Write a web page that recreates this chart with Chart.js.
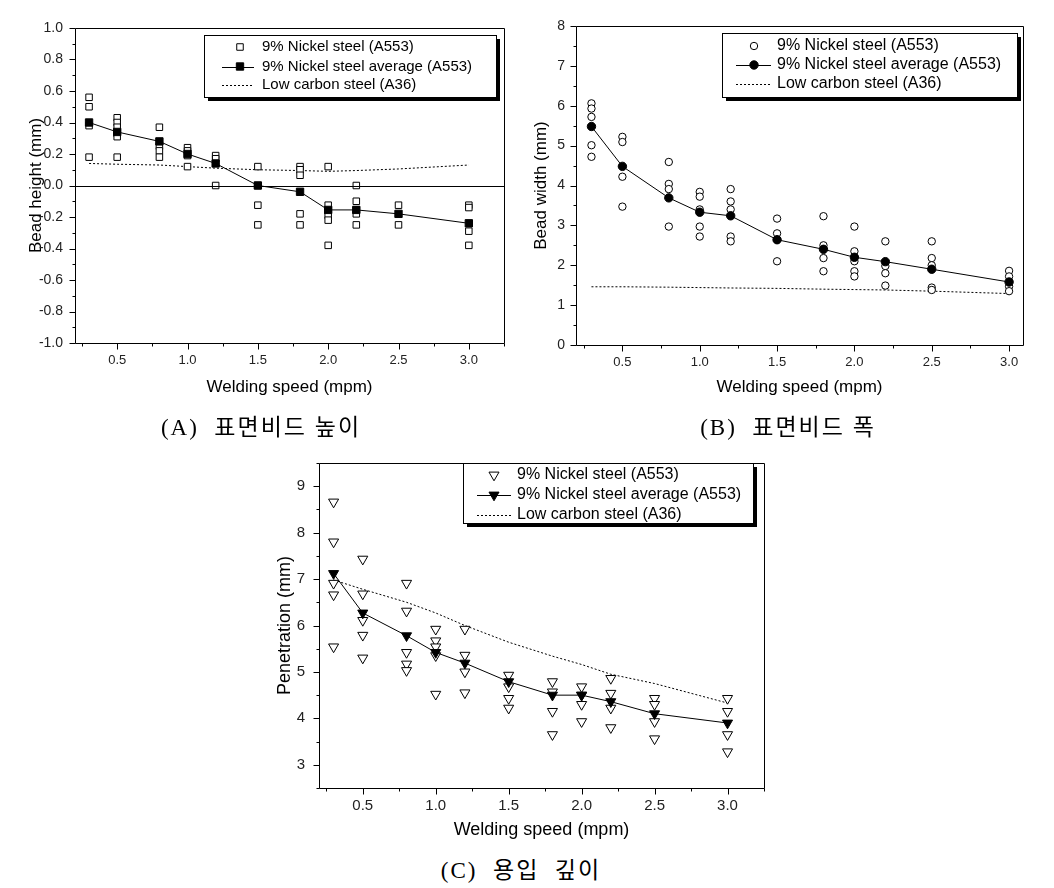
<!DOCTYPE html>
<html><head><meta charset="utf-8">
<script src="https://cdn.jsdelivr.net/npm/chart.js@4.4.1/dist/chart.umd.min.js"></script>
<style>
body{margin:0;background:#fff;width:1054px;height:888px;position:relative;overflow:hidden}
.c{position:absolute}
.cap{position:absolute;font-family:"Liberation Serif","Noto Sans CJK KR",serif;font-size:23px;color:#000;white-space:nowrap;transform:translate(-50%,-50%);letter-spacing:2px}
</style></head><body>
<div class="c" style="left:0;top:0"><canvas id="cA" width="527" height="400"></canvas></div>
<div class="c" style="left:527px;top:0"><canvas id="cB" width="527" height="400"></canvas></div>
<div class="c" style="left:250px;top:440px"><canvas id="cC" width="540" height="410"></canvas></div>
<div class="cap" style="left:261px;top:425px">(A)&nbsp;&nbsp;표면비드 높이</div>
<div class="cap" style="left:788px;top:425px">(B)&nbsp;&nbsp;표면비드 폭</div>
<div class="cap" style="left:521px;top:868px">(C)&nbsp;&nbsp;용입&nbsp;&nbsp;깊이</div>
<script>
// ---------- DATA ----------
const SPEEDS = [0.3, 0.5, 0.8, 1.0, 1.2, 1.5, 1.8, 2.0, 2.2, 2.5, 3.0];
const LEGEND = ['9% Nickel steel (A553)', '9% Nickel steel average (A553)', 'Low carbon steel (A36)'];

const HEIGHT_RAW = [
  [0.56, 0.50, 0.38, 0.18],
  [0.43, 0.40, 0.37, 0.33, 0.31, 0.18],
  [0.37, 0.25, 0.22, 0.18],
  [0.24, 0.22, 0.19, 0.12],
  [0.19, 0.17, 0.0],
  [0.12, 0.0, -0.125, -0.25],
  [0.12, 0.10, 0.065, -0.18, -0.25],
  [0.12, -0.125, -0.16, -0.19, -0.22, -0.38],
  [0.0, -0.10, -0.155, -0.18, -0.25],
  [-0.125, -0.25],
  [-0.125, -0.14, -0.29, -0.38]
];
const HEIGHT_AVG = [0.40, 0.34, 0.28, 0.20, 0.14, 0.0, -0.04, -0.155, -0.155, -0.18, -0.24];
const HEIGHT_A36 = [0.14, 0.135, 0.13, 0.12, 0.11, 0.10, 0.095, 0.09, 0.095, 0.105, 0.13];

const WIDTH_RAW = [
  [6.06, 5.93, 5.72, 5.01, 4.72],
  [5.22, 5.09, 4.22, 3.47],
  [4.59, 4.04, 3.91, 2.97],
  [3.84, 3.72, 3.40, 2.97, 2.72],
  [3.91, 3.60, 3.40, 2.72, 2.60],
  [3.17, 2.80, 2.64, 2.10],
  [3.23, 2.50, 2.18, 1.85],
  [2.97, 2.35, 2.10, 1.85, 1.72],
  [2.60, 1.98, 1.80, 1.49],
  [2.60, 2.18, 2.00, 1.44, 1.38],
  [1.86, 1.72, 1.47, 1.35]
];
const WIDTH_AVG = [5.48, 4.48, 3.69, 3.33, 3.24, 2.64, 2.40, 2.20, 2.09, 1.90, 1.58];
const WIDTH_A36 = [1.46, 1.46, 1.45, 1.44, 1.43, 1.42, 1.40, 1.39, 1.38, 1.35, 1.29];

const PEN_RAW = [
  [8.66, 7.80, 6.91, 6.66, 5.54],
  [7.43, 6.68, 6.11, 5.79, 5.30],
  [6.91, 6.31, 5.42, 5.17, 5.03],
  [5.92, 5.67, 5.54, 5.35, 4.52],
  [5.92, 5.36, 5.00, 4.55],
  [4.93, 4.68, 4.43, 4.22],
  [4.79, 4.57, 4.15, 3.65],
  [4.68, 4.50, 4.30, 3.93],
  [4.86, 4.54, 4.22, 3.80],
  [4.43, 4.30, 3.93, 3.56],
  [4.43, 4.15, 3.65, 3.28]
];
const PEN_AVG = [7.12, 6.27, 5.78, 5.42, 5.19, 4.79, 4.50, 4.50, 4.36, 4.10, 3.90];
const PEN_A36 = [6.98, 6.78, 6.50, 6.27, 6.00, 5.64, 5.34, 5.16, 4.95, 4.75, 4.33];

const X_TICKS = [0.5, 1.0, 1.5, 2.0, 2.5, 3.0];
const X_MINOR = [0.25, 0.75, 1.25, 1.75, 2.25, 2.75, 3.25];
const HEIGHT_TICKS = [-1.0, -0.8, -0.6, -0.4, -0.2, 0.0, 0.2, 0.4, 0.6, 0.8, 1.0];
const HEIGHT_MINOR = [-0.9, -0.7, -0.5, -0.3, -0.1, 0.1, 0.3, 0.5, 0.7, 0.9];
const WIDTH_TICKS = [0, 1, 2, 3, 4, 5, 6, 7, 8];
const WIDTH_MINOR = [0.5, 1.5, 2.5, 3.5, 4.5, 5.5, 6.5, 7.5];
const PEN_TICKS = [3, 4, 5, 6, 7, 8, 9];
const PEN_MINOR = [2.5, 3.5, 4.5, 5.5, 6.5, 7.5, 8.5, 9.5];

// ---------- HELPERS ----------
const FONT = '"Liberation Sans", Arial, sans-serif';
function pts(raw) { const out = []; raw.forEach((arr, i) => arr.forEach(v => out.push({x: SPEEDS[i], y: v}))); return out; }
function series(vals) { return vals.map((v, i) => ({x: SPEEDS[i], y: v})); }

const decoPlugin = {
  id: 'deco',
  afterDraw(chart, args, o) {
    const {ctx, chartArea: a, scales: {x, y}} = chart;
    ctx.save();
    ctx.strokeStyle = '#000'; ctx.lineWidth = 1;
    const L = Math.round(a.left) + 0.5, R = Math.round(a.right) + 0.5, T = Math.round(a.top) + 0.5, B = Math.round(a.bottom) + 0.5;
    ctx.beginPath();
    ctx.rect(L, T, R - L, B - T);
    const xt = (v, len) => { const p = Math.round(x.getPixelForValue(v)) + 0.5; ctx.moveTo(p, B); ctx.lineTo(p, B + len); };
    const yt = (v, len) => { const p = Math.round(y.getPixelForValue(v)) + 0.5; ctx.moveTo(L, p); ctx.lineTo(L - len, p); };
    o.xMajor.forEach(v => xt(v, o.major));
    o.xMinor.forEach(v => xt(v, o.minor));
    o.yMajor.forEach(v => yt(v, o.major));
    o.yMinor.forEach(v => yt(v, o.minor));
    if (o.zero) { const p = Math.round(y.getPixelForValue(0)) + 0.5; ctx.moveTo(L, p); ctx.lineTo(R, p); }
    ctx.stroke();
    // legend
    const g = o.legend;
    ctx.fillStyle = '#000';
    ctx.fillRect(g.x + 4, g.y + 4, g.w, g.h);
    ctx.fillStyle = '#fff';
    ctx.fillRect(g.x, g.y, g.w, g.h);
    ctx.strokeRect(g.x + 0.5, g.y + 0.5, g.w, g.h);
    const ds = chart.data.datasets;
    ctx.font = g.font + 'px ' + FONT;
    ctx.textBaseline = 'middle'; ctx.textAlign = 'left';
    ds.forEach((d, i) => {
      const yy = g.rows[i];
      ctx.strokeStyle = '#000'; ctx.lineWidth = 1;
      if (d.showLine) {
        ctx.save();
        ctx.setLineDash(d.borderDash || []);
        ctx.beginPath(); ctx.moveTo(g.l1, Math.round(yy) + 0.5); ctx.lineTo(g.l2, Math.round(yy) + 0.5); ctx.stroke();
        ctx.restore();
      }
      if (d.pointRadius > 0) {
        ctx.fillStyle = d.pointBackgroundColor; ctx.strokeStyle = '#000';
        Chart.helpers.drawPoint(ctx, {pointStyle: d.pointStyle, rotation: d.rotation || 0, radius: d.pointRadius, borderWidth: 1}, g.mx, yy);
      }
      ctx.fillStyle = '#000';
      ctx.fillText(d.label, g.tx, yy);
    });
    ctx.restore();
  }
};

function panel(id, P) {
  const cv = document.getElementById(id);
  const W = cv.width, H = cv.height;
  return new Chart(cv, {
    type: 'scatter',
    data: {datasets: [
      {label: LEGEND[0], data: pts(P.raw), pointStyle: P.style, rotation: P.rot, pointRadius: P.rRaw,
       pointBackgroundColor: '#fff', pointBorderColor: '#000', pointBorderWidth: 1, showLine: false, order: 1},
      {label: LEGEND[1], data: series(P.avg), pointStyle: P.style, rotation: P.rot, pointRadius: P.rAvg,
       pointBackgroundColor: '#000', pointBorderColor: '#000', pointBorderWidth: 1, borderColor: '#000', borderWidth: 1,
       showLine: true, tension: 0, order: 0},
      {label: LEGEND[2], data: series(P.a36), pointRadius: 0, borderColor: '#000', borderWidth: 1,
       borderDash: [2, 2], showLine: true, tension: 0, order: 2}
    ]},
    options: {
      responsive: false, animation: false, devicePixelRatio: 1,
      layout: {padding: {left: 0, top: P.area.t, right: W - P.area.r, bottom: 0}},
      plugins: {legend: {display: false}, tooltip: {enabled: false},
        deco: {xMajor: X_TICKS, xMinor: X_MINOR.filter(v => v <= P.xmax), yMajor: P.yTicks, yMinor: P.yMinor,
               major: 6, minor: 3, zero: P.zero, legend: P.legend}},
      scales: {
        x: {type: 'linear', min: 0.2, max: P.xmax, offset: false,
            grid: {display: false, drawTicks: false}, border: {display: false},
            afterBuildTicks: s => { s.ticks = X_TICKS.map(v => ({value: v})); },
            afterFit: s => { s.height = H - P.area.b; },
            ticks: {autoSkip: false, maxRotation: 0, padding: P.xPad, color: '#222',
                    font: {family: FONT, size: P.xTickSize}, callback: v => Number(v).toFixed(1)},
            title: {display: true, text: 'Welding speed (mpm)', color: '#000',
                    font: {family: FONT, size: P.titleSize}, padding: {top: 0, bottom: P.xTitlePad}}},
        y: {type: 'linear', min: P.ymin, max: P.ymax,
            grid: {display: false, drawTicks: false}, border: {display: false},
            afterBuildTicks: s => { s.ticks = P.yTicks.map(v => ({value: v})); },
            afterFit: s => { s.width = P.area.l; },
            ticks: {autoSkip: false, padding: P.yPad, color: '#222',
                    font: {family: FONT, size: P.yTickSize}, callback: v => P.yFmt(v)},
            title: {display: true, text: P.yTitle, color: '#000',
                    font: {family: FONT, size: P.titleSize}, padding: {top: P.yTitlePad, bottom: 0}}}
      }
    },
    plugins: [decoPlugin]
  });
}

panel('cA', {
  raw: HEIGHT_RAW, avg: HEIGHT_AVG, a36: HEIGHT_A36, style: 'rect', rot: 0, rRaw: 4.6, rAvg: 5.2,
  area: {l: 75, r: 504, t: 28, b: 343}, xmax: 3.25, ymin: -1, ymax: 1,
  yTicks: HEIGHT_TICKS, yMinor: HEIGHT_MINOR, yFmt: v => Number(v).toFixed(1), zero: true,
  yTitle: 'Bead height (mm)', titleSize: 17, xTickSize: 13, yTickSize: 14, xPad: 10, yPad: 12,
  xTitlePad: 2, yTitlePad: 26,
  legend: {x: 204, y: 35, w: 292, h: 62, rows: [47, 66.5, 85], mx: 240, l1: 222, l2: 254, tx: 262, font: 15}
});
panel('cB', {
  raw: WIDTH_RAW, avg: WIDTH_AVG, a36: WIDTH_A36, style: 'circle', rot: 0, rRaw: 3.7, rAvg: 4.2,
  area: {l: 49, r: 496, t: 26, b: 345}, xmax: 3.09, ymin: 0, ymax: 8,
  yTicks: WIDTH_TICKS, yMinor: WIDTH_MINOR, yFmt: v => String(v), zero: false,
  yTitle: 'Bead width (mm)', titleSize: 17, xTickSize: 13, yTickSize: 14, xPad: 10, yPad: 11,
  xTitlePad: 2, yTitlePad: 4,
  legend: {x: 195, y: 33, w: 295, h: 64, rows: [46, 65, 83.5], mx: 227, l1: 209, l2: 244, tx: 250, font: 16}
});
panel('cC', {
  raw: PEN_RAW, avg: PEN_AVG, a36: PEN_A36, style: 'triangle', rot: 180, rRaw: 5.8, rAvg: 5.8,
  area: {l: 69, r: 514, t: 19, b: 348}, xmax: 3.25, ymin: 2.5, ymax: 9.5,
  yTicks: PEN_TICKS, yMinor: PEN_MINOR, yFmt: v => String(v), zero: false,
  yTitle: 'Penetration (mm)', titleSize: 18, xTickSize: 15, yTickSize: 15, xPad: 9, yPad: 14,
  xTitlePad: 9, yTitlePad: 24,
  legend: {x: 213, y: 23, w: 290, h: 60, rows: [35, 55, 75], mx: 244, l1: 227, l2: 261, tx: 267, font: 16}
});
</script>
</body></html>
